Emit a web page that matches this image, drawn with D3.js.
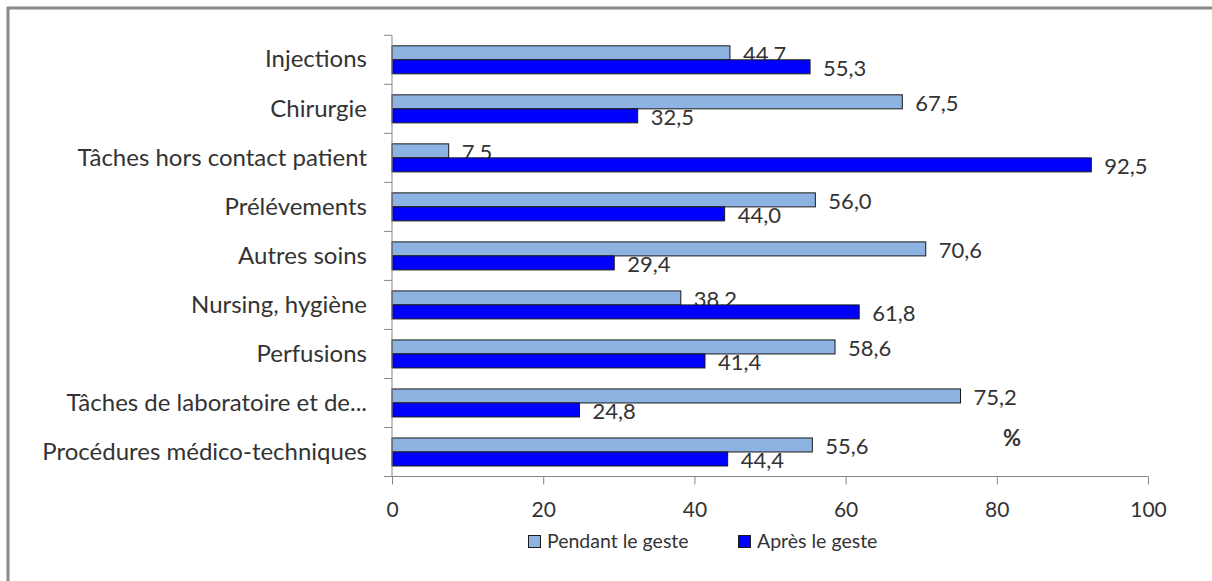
<!DOCTYPE html>
<html>
<head>
<meta charset="utf-8">
<script src="https://cdn.jsdelivr.net/npm/d3@7"></script>
<style>
  body { margin: 0; background: #fff; }
  text { font-family: Lato, "Open Sans", sans-serif; fill: #333; }
</style>
</head>
<body>
<div id="app"></div>
<script>
// data
const categories = [
  "Injections",
  "Chirurgie",
  "Tâches hors contact patient",
  "Prélévements",
  "Autres soins",
  "Nursing, hygiène",
  "Perfusions",
  "Tâches de laboratoire et de...",
  "Procédures médico-techniques"
];
const seriesNames = ["Pendant le geste", "Après le geste"];
const pendant = [44.7, 67.5, 7.5, 56.0, 70.6, 38.2, 58.6, 75.2, 55.6];
const apres = [55.3, 32.5, 92.5, 44.0, 29.4, 61.8, 41.4, 24.8, 44.4];
const xTicks = [0, 20, 40, 60, 80, 100];
const colors = ["#8db3e2", "#0000ff"];

const w = 1212, h = 581;
const pLeft = 392, pRight = 1148, pTop = 35.3, pBottom = 476.5;

const svg = d3.select("#app")
  .append("svg")
  .attr("width", w)
  .attr("height", h)

// outer frame (only left + top visible)
svg.append("path")
  .attr("d", "M8," + h + " V8 H" + w)
  .attr("fill", "none")
  .attr("stroke", "#8a8a8a")
  .attr("stroke-width", 3)

const xScale = d3.scaleLinear().domain([0, 100]).range([pLeft, pRight])
const yScale = d3.scaleBand().domain(categories).range([pTop, pBottom]).paddingInner(0)
const ySub = d3.scaleBand().domain(seriesNames).range([0, yScale.bandwidth()]).paddingOuter(0.75).paddingInner(0)

const fmt = v => v.toFixed(1).replace(".", ",")

const seriesValues = [pendant, apres]

// one series after the other: the dark bars sit over the light labels
seriesNames.forEach((s, j) => {
  const g = svg.append("g").attr("class", "series")
  g.selectAll("rect")
    .data(categories)
    .enter()
    .append("rect")
    .attr("x", xScale(0))
    .attr("y", (c) => yScale(c) + ySub(s))
    .attr("width", (c, i) => xScale(seriesValues[j][i]) - xScale(0))
    .attr("height", ySub.bandwidth())
    .attr("fill", colors[j])
    .attr("stroke", "#1a1a1a")
    .attr("stroke-width", 1)

  g.selectAll("text")
    .data(categories)
    .enter()
    .append("text")
    .attr("x", (c, i) => xScale(seriesValues[j][i]) + 13)
    .attr("y", c => yScale(c) + ySub(s) + ySub.bandwidth() / 2 + 9)
    .style("font-size", "22px")
    .text((c, i) => fmt(seriesValues[j][i]))
})

// axes
const xAxis = d3.axisBottom(xScale).tickValues(xTicks).tickSize(8).tickPadding(18).tickFormat(d3.format("d"))
const yAxis = d3.axisLeft(yScale).tickSize(0).tickPadding(25)

const gx = svg.append("g")
  .attr("transform", "translate(0," + pBottom + ")")
  .call(xAxis)
gx.select(".domain").attr("stroke", "#868686").attr("d", "M" + pLeft + ",0H" + pRight)
gx.selectAll(".tick line").attr("stroke", "#868686")
gx.selectAll(".tick text").style("font-size", "21px").style("font-family", "Lato").attr("fill", "#333")

const gy = svg.append("g")
  .attr("transform", "translate(" + pLeft + ",0)")
  .call(yAxis)
gy.select(".domain").attr("stroke", "#868686").attr("d", "M0," + pTop + "V" + pBottom)
gy.selectAll(".tick text").style("font-size", "24px").style("font-family", "Lato").attr("fill", "#333")
// category separators
gy.selectAll(".sep")
  .data(d3.range(categories.length + 1))
  .enter()
  .append("line")
  .attr("x1", -8).attr("x2", 0)
  .attr("y1", i => pTop + i * yScale.step())
  .attr("y2", i => pTop + i * yScale.step())
  .attr("stroke", "#868686")

// % label
svg.append("text")
  .attr("x", xScale(82))
  .attr("y", 446)
  .attr("text-anchor", "middle")
  .style("font-size", "22px")
  .style("font-weight", "bold")
  .text("%")

// legend
const legend = svg.append("g").attr("transform", "translate(528,535)")
const lx = [0, 210]
seriesNames.forEach((s, j) => {
  legend.append("rect")
    .attr("x", lx[j] + 0.5).attr("y", 0.5)
    .attr("width", 12).attr("height", 12)
    .attr("fill", colors[j])
    .attr("stroke", "#1a1a1a")
  legend.append("text")
    .attr("x", lx[j] + 19)
    .attr("y", 13)
    .style("font-size", "19.5px")
    .text(s)
})
</script>
</body>
</html>
